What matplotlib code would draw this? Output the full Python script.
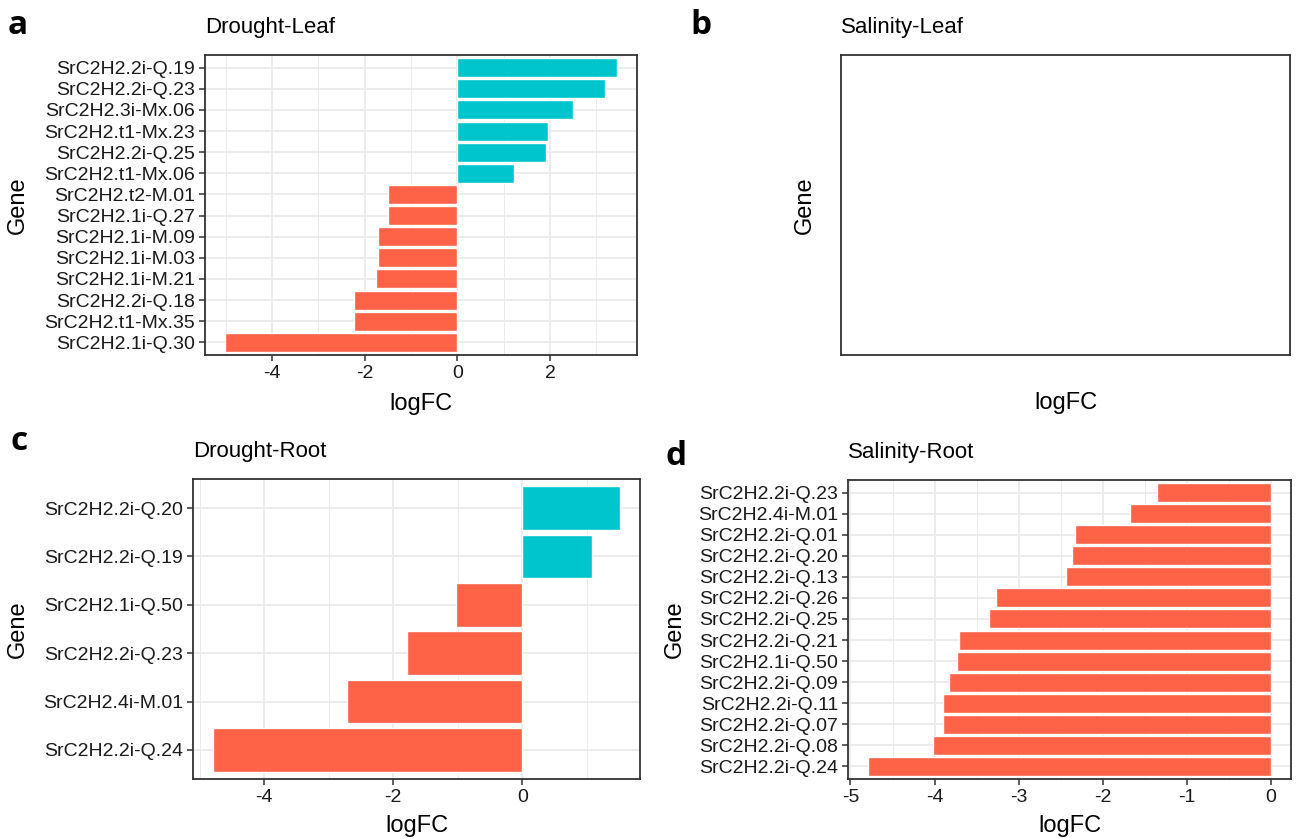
import matplotlib
matplotlib.use("Agg")
import matplotlib.pyplot as plt
import numpy as np
from matplotlib.ticker import MultipleLocator

plt.rcParams['font.family'] = ['Liberation Sans', 'DejaVu Sans']
plt.rcParams['axes.unicode_minus'] = False

# Data (top bar first)
genes_dl = ["SrC2H2.2i-Q.19", "SrC2H2.2i-Q.23", "SrC2H2.3i-Mx.06", "SrC2H2.t1-Mx.23",
            "SrC2H2.2i-Q.25", "SrC2H2.t1-Mx.06", "SrC2H2.t2-M.01", "SrC2H2.1i-Q.27",
            "SrC2H2.1i-M.09", "SrC2H2.1i-M.03", "SrC2H2.1i-M.21", "SrC2H2.2i-Q.18",
            "SrC2H2.t1-Mx.35", "SrC2H2.1i-Q.30"]
logfc_dl = [3.45, 3.18, 2.49, 1.95, 1.91, 1.22, -1.49, -1.50,
            -1.71, -1.72, -1.75, -2.24, -2.24, -5.02]

genes_dr = ["SrC2H2.2i-Q.20", "SrC2H2.2i-Q.19", "SrC2H2.1i-Q.50",
            "SrC2H2.2i-Q.23", "SrC2H2.4i-M.01", "SrC2H2.2i-Q.24"]
logfc_dr = [1.51, 1.08, -1.02, -1.79, -2.72, -4.79]

genes_sr = ["SrC2H2.2i-Q.23", "SrC2H2.4i-M.01", "SrC2H2.2i-Q.01", "SrC2H2.2i-Q.20",
            "SrC2H2.2i-Q.13", "SrC2H2.2i-Q.26", "SrC2H2.2i-Q.25", "SrC2H2.2i-Q.21",
            "SrC2H2.1i-Q.50", "SrC2H2.2i-Q.09", "SrC2H2.2i-Q.11", "SrC2H2.2i-Q.07",
            "SrC2H2.2i-Q.08", "SrC2H2.2i-Q.24"]
logfc_sr = [-1.35, -1.67, -2.33, -2.37, -2.44, -3.27, -3.35, -3.71,
            -3.73, -3.83, -3.90, -3.90, -4.02, -4.79]

UP = "#00C5CD"
DOWN = "#FF6347"
GRID = "#EBEBEB"
BORDER = "#333333"

W, H = 1296, 838
fig = plt.figure(figsize=(W / 100, H / 100), dpi=100)


def add_ax(x0, y0, x1, y1):
    return fig.add_axes([x0 / W, 1 - y1 / H, (x1 - x0) / W, (y1 - y0) / H])


def style(ax):
    for s in ax.spines.values():
        s.set_color(BORDER)
        s.set_linewidth(1.3)
    ax.tick_params(axis='both', colors=BORDER, length=4, width=1.1,
                   labelsize=14, labelcolor='#1a1a1a', pad=3)


def bar_panel(ax, genes, vals):
    n = len(genes)
    y = np.arange(n)[::-1]
    colors = [UP if v > 0 else DOWN for v in vals]
    ax.barh(y, vals, height=0.9, color=colors, edgecolor='white', linewidth=1, zorder=3)
    ax.set_yticks(y)
    ax.set_yticklabels(genes)
    ax.set_ylim(-0.6, n - 1 + 0.6)
    lo, hi = min(min(vals), 0), max(max(vals), 0)
    pad = (hi - lo) * 0.05
    ax.set_xlim(lo - pad, hi + pad)
    ax.xaxis.set_major_locator(MultipleLocator(2 if hi - lo > 6 else 1))
    ax.xaxis.set_minor_locator(MultipleLocator(1 if hi - lo > 6 else 0.5))
    ax.tick_params(axis='x', which='minor', length=0)
    ax.grid(True, which='major', color=GRID, linewidth=1.3, zorder=0)
    ax.grid(True, which='minor', axis='x', color=GRID, linewidth=0.7, zorder=0)
    ax.set_axisbelow(True)
    style(ax)


def annotate(ax, letter, letter_xy, title, ylab_x, xlab_y):
    x0, y0, w, h = ax.get_position().bounds
    fig.text(letter_xy[0] / W, 1 - letter_xy[1] / H, letter, fontsize=24,
             fontweight='bold', family=['Open Sans', 'DejaVu Sans'], va='center', ha='left')
    fig.text(x0, y0 + h + 28 / H, title, fontsize=16, ha='left', va='center')
    fig.text(ylab_x / W, y0 + h / 2, "Gene", rotation=90, fontsize=17,
             ha='center', va='center')
    fig.text(x0 + w / 2, 1 - xlab_y / H, "logFC", fontsize=17,
             ha='center', va='center')


# a: Drought-Leaf
ax_a = add_ax(205, 55, 637, 355)
bar_panel(ax_a, genes_dl, logfc_dl)
annotate(ax_a, "a", (8, 26), "Drought-Leaf", 18, 404)

# b: Salinity-Leaf (no genes)
ax_b = add_ax(841, 55, 1290, 355)
ax_b.set_xticks([])
ax_b.set_yticks([])
style(ax_b)
annotate(ax_b, "b", (690, 26), "Salinity-Leaf", 805, 403)

# c: Drought-Root
ax_c = add_ax(193, 479, 640, 779)
bar_panel(ax_c, genes_dr, logfc_dr)
annotate(ax_c, "c", (10, 442), "Drought-Root", 18, 826)

# d: Salinity-Root
ax_d = add_ax(848, 480, 1291, 779)
bar_panel(ax_d, genes_sr, logfc_sr)
annotate(ax_d, "d", (666, 456), "Salinity-Root", 675, 826)

fig.savefig("out.png", dpi=100)
